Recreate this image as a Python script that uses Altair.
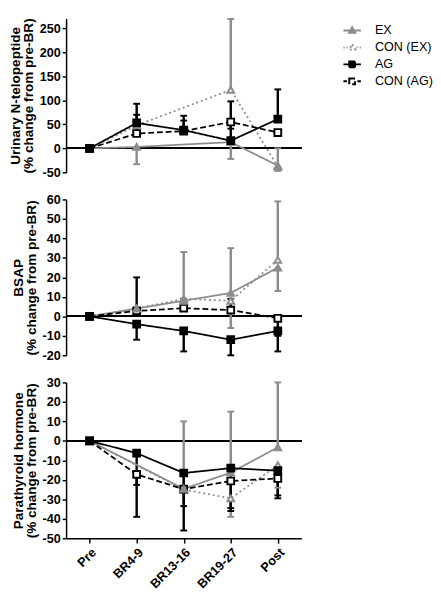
import altair as alt
import pandas as pd

FONT = "Liberation Sans"
GRAY = "#8c8c8c"

categories = ["Pre", "BR4-9", "BR13-16", "BR19-27", "Post"]
series = ["EX", "CON (EX)", "AG", "CON (AG)"]

# Panel 1: Urinary N-telopeptide (mean, error-bar end)
ntx_ex = [0, 3, None, 13, -36]
ntx_ex_bar = [None, -33, None, -22, 0]
ntx_conex = [0, 48, None, 122, -38]
ntx_conex_bar = [None, None, None, 270, -47]
ntx_ag = [0, 53, 38, 16, 61]
ntx_ag_bar = [None, 93, 68, 98, 123]
ntx_conag = [0, 31, 36, 55, 33]
ntx_conag_bar = [None, 70, 58, 41, None]

# Panel 2: BSAP
bsap_ex = [0, 4, 8, 12, 25]
bsap_ex_bar = [None, None, 33, 35, 13]
bsap_conex = [0, 4, 9, 8, 29]
bsap_conex_bar = [None, None, 4, -6, 59]
bsap_ag = [0, -4, -7.5, -12, -7.5]
bsap_ag_bar = [None, -12, -18, -20, -18]
bsap_conag = [0, 2.8, 4.2, 3.2, -1]
bsap_conag_bar = [None, 20, 9, 9, -10]

# Panel 3: Parathyroid hormone
pth_ex = [0, None, -24.6, -16.3, -3.3]
pth_ex_bar = [None, None, 10, 15, 30]
pth_conex = [0, None, -25, -29.5, -12.5]
pth_conex_bar = [None, None, None, -39, -24]
pth_ag = [0, -6.3, -16.5, -14, -15.3]
pth_ag_bar = [None, -22.6, -33.5, -34.5, -28]
pth_conag = [0, -17.2, -24.8, -20.6, -19.3]
pth_conag_bar = [None, -39, -46, -36, -29.5]

y1_ticks = [-50, 0, 50, 100, 150, 200, 250]
y2_ticks = [-20, -10, 0, 10, 20, 30, 40, 50, 60]
y3_ticks = [-50, -40, -30, -20, -10, 0, 10, 20, 30]


def frame(means, bars):
    rows = []
    for s, ml, bl in zip(series, means, bars):
        for c, m, b in zip(categories, ml, bl):
            rows.append({"series": s, "cat": c, "mean": m, "bar": b})
    return pd.DataFrame(rows)


df1 = frame([ntx_ex, ntx_conex, ntx_ag, ntx_conag],
            [ntx_ex_bar, ntx_conex_bar, ntx_ag_bar, ntx_conag_bar])
df2 = frame([bsap_ex, bsap_conex, bsap_ag, bsap_conag],
            [bsap_ex_bar, bsap_conex_bar, bsap_ag_bar, bsap_conag_bar])
df3 = frame([pth_ex, pth_conex, pth_ag, pth_conag],
            [pth_ex_bar, pth_conex_bar, pth_ag_bar, pth_conag_bar])

color_scale = alt.Scale(domain=series, range=[GRAY, GRAY, "black", "black"])
fill_scale = alt.Scale(domain=series, range=[GRAY, "white", "black", "white"])
dash_scale = alt.Scale(domain=series, range=[[1, 0], [2, 3], [1, 0], [6, 3]])

tri = "M0,-1.1L1.05,0.75L-1.05,0.75Z"
sq = "M-1,-1H1V1H-1Z"
legend_paths = [
    "M-3,0H-0.6M0.6,0H3" + tri,
    "M-3,0H-2.6M-1.9,0H-1.5M1.5,0H1.9M2.6,0H3" + tri,
    "M-3,0H-1M1,0H3" + sq,
    "M-3,0H-1.8M1.8,0H3" + sq,
]

LEG = alt.Legend(title=None, orient="none", legendX=289, legendY=6, labelFont=FONT,
                 labelFontSize=13, labelColor="black", symbolSize=36,
                 symbolStrokeWidth=2, labelOffset=17, rowPadding=2.5)


def yaxis(ticks, title):
    return alt.Axis(values=ticks, grid=False, domainColor="black", domainWidth=1.5,
                    tickColor="black", tickWidth=1.5, tickSize=4,
                    labelFont=FONT, labelFontSize=13, labelFontWeight="bold",
                    labelColor="black", labelPadding=2,
                    labelExpr="datum.value < 0 ? '-' + abs(datum.value) : '' + datum.value",
                    title=title, titleFont=FONT, titleFontSize=14, titleFontWeight="bold",
                    titleColor="black", titlePadding=4, titleLineHeight=13.5)


def panel(df, domain, ticks, title, height, show_x, with_legend):
    yscale = alt.Scale(domain=domain, nice=False, zero=False)
    ax = yaxis(ticks, title)
    if show_x:
        xaxis = alt.Axis(title=None, labelAngle=-45, labelFont=FONT, labelFontSize=13,
                         labelFontWeight="bold", labelColor="black", domainColor="black",
                         domainWidth=1.5, tickColor="black", tickWidth=1.5, tickSize=5,
                         labelPadding=3, grid=False)
    else:
        xaxis = None
    x = alt.X("cat:N", sort=categories,
              scale=alt.Scale(type="point", domain=categories, padding=0.5), axis=xaxis)
    y = alt.Y("mean:Q", scale=yscale, axis=ax)
    base = alt.Chart(df)
    layers = []
    if with_legend:
        leg = base.transform_filter("false").mark_point(
            filled=True, opacity=1, strokeWidth=2).encode(
            x=x, y=y,
            shape=alt.Shape("series:N", scale=alt.Scale(domain=series, range=legend_paths), legend=LEG),
            stroke=alt.Stroke("series:N", scale=color_scale, legend=LEG),
            fill=alt.Fill("series:N", scale=fill_scale, legend=LEG))
        layers.append(leg)
    zero = base.mark_rule(color="black", strokeWidth=1.5).encode(
        y=alt.Y(datum=0, scale=yscale, axis=ax))
    col = alt.Color("series:N", scale=color_scale, legend=None)
    valid = base.transform_filter("isValid(datum.mean)")
    bars = base.transform_filter("isValid(datum.bar) && isValid(datum.mean)")
    err = bars.mark_rule(strokeWidth=2.5).encode(x=x, y=y, y2="bar:Q", color=col)
    caps = bars.mark_tick(size=7, thickness=2, opacity=1).encode(
        x=x, y=alt.Y("bar:Q", scale=yscale, axis=ax), color=col)
    lines = valid.mark_line(strokeWidth=1.8).encode(
        x=x, y=y, color=col,
        strokeDash=alt.StrokeDash("series:N", scale=dash_scale, legend=None),
        detail="series:N")
    stroke = alt.Stroke("series:N", scale=color_scale, legend=None)
    fill = alt.Fill("series:N", scale=fill_scale, legend=None)

    def pts(name, shape):
        return valid.transform_filter(alt.datum.series == name).mark_point(
            shape=shape, size=49, filled=True, opacity=1, strokeWidth=2
        ).encode(x=x, y=y, stroke=stroke, fill=fill)

    layers += [zero, err, caps, lines,
               pts(series[1], "triangle-up"), pts(series[3], "square"),
               pts(series[0], "triangle-up"), pts(series[2], "square")]
    return alt.layer(*layers).properties(width=243, height=height)


p1 = panel(df1, [-50, 271], y1_ticks, ["Urinary N-telopeptide", "(% change from pre-BR)"],
           159, False, True)
p2 = panel(df2, [-20, 60], y2_ticks, ["BSAP", "(% change from pre-BR)"], 161, False, False)
p3 = panel(df3, [-50, 30], y3_ticks, ["Parathyroid hormone", "(% change from pre-BR)"],
           161, True, False)

chart = alt.vconcat(p1, p2, p3, spacing=28, bounds="flush").properties(
    padding={"left": 0, "top": 0, "right": 0, "bottom": 0}
).configure_view(stroke=None)

chart.save("out.html", embed_options={"renderer": "svg", "actions": False})
